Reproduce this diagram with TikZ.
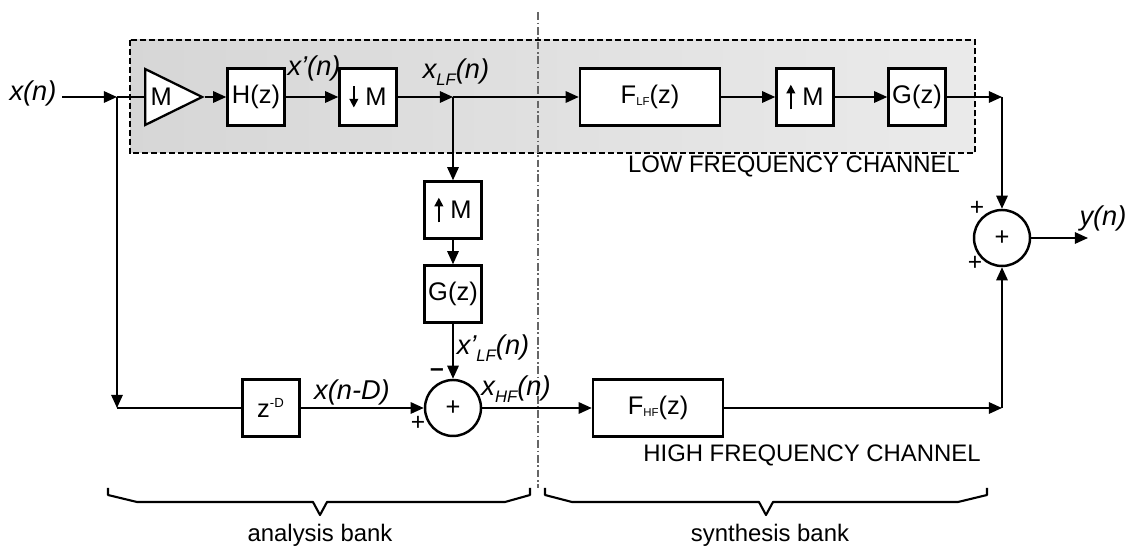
\documentclass[tikz,border=0pt]{standalone}
\usepackage{fontspec}
\setmainfont{Liberation Sans}
\usetikzlibrary{arrows.meta,positioning,shapes.geometric,calc}

\newcommand{\arrdown}{\tikz[baseline=0pt]\draw[line width=1pt,-{Triangle[length=5pt,width=5pt]}] (0pt,11pt) -- (0pt,-1pt);}
\newcommand{\arrup}{\tikz[baseline=0pt]\draw[line width=1pt,-{Triangle[length=5pt,width=5pt]}] (0pt,-2pt) -- (0pt,12pt);}
\newcommand{\lsub}[1]{\raisebox{-0.45ex}{\fontsize{9.5}{9.5}\selectfont #1}}
\newcommand{\bsub}[1]{\raisebox{-0.15ex}{\fontsize{6.5}{6.5}\selectfont #1}}

\tikzset{
  blk/.style={draw, line width=1.4pt, fill=white, minimum width=1.14cm, minimum height=1.14cm, inner sep=0pt, font=\fontsize{14.5}{16}\selectfont},
  sumnode/.style={circle, draw, line width=1.4pt, fill=white, minimum size=1.12cm, inner sep=0pt, font=\fontsize{14.5}{16}\selectfont},
  ampnode/.style={isosceles triangle, isosceles triangle apex angle=54, isosceles triangle stretches, draw, line width=1.3pt, fill=white, minimum width=1.12cm, minimum height=1.14cm, inner sep=0pt, font=\fontsize{14.5}{16}\selectfont},
  sig/.style={font=\fontsize{15.5}{18}\selectfont\itshape, inner sep=0pt},
  chan/.style={font=\fontsize{13.6}{15}\selectfont, inner sep=0pt},
  sgn/.style={font=\fontsize{14}{15}\selectfont, inner sep=0pt},
  wire/.style={line width=1.1pt, -{Triangle[length=7.5pt,width=6.5pt]}},
  plain/.style={line width=1.1pt},
  brace/.style={line width=1.2pt, line join=round},
  divider/.style={line width=0.8pt, black!60, dash pattern=on 4.5pt off 1.5pt on 0.9pt off 1.5pt},
}

\begin{document}
\begin{tikzpicture}[x=0.02cm, y=-0.02cm]
    \useasboundingbox (0,0) rectangle (1134,547);

    % low frequency channel area
    \draw[line width=1.4pt, dash pattern=on 3.4pt off 1.7pt, left color=black!16, right color=black!8] (130,40) rectangle (975,153);
    \draw[divider] (538,12) -- (538,488);

    % blocks
    \node[ampnode, anchor=lower side] (amp) at (144,97) {M};
    \node[blk] (hz) at (256,97) {H(z)};
    \node[blk] (down) at (368,97) {\arrdown\ M};
    \node[blk, minimum width=2.8cm] (flf) at (650,97) {F\bsub{LF}(z)};
    \node[blk] (upm) at (805,97) {\arrup\ M};
    \node[blk] (gz) at (917,97) {G(z)};
    \node[blk] (upv) at (453,210) {\arrup\ M};
    \node[blk] (gv) at (453,294) {G(z)};
    \node[blk] (zd) at (271,408) {z\textsuperscript{\fontsize{7.5}{7.5}\selectfont -D}};
    \node[sumnode] (sumi) at (453,408) {+};
    \node[blk, minimum width=2.6cm] (fhf) at (658,408) {F\bsub{HF}(z)};
    \node[sumnode] (sumo) at (1002,238) {+};

    % junctions
    \coordinate (jin) at (117,97);
    \coordinate (jd) at (117,408);
    \coordinate (jlf) at (453,97);
    \coordinate (jout) at (1002,97);
    \coordinate (jhf) at (1002,408);
    \coordinate (yend) at (1088,238);

    % signal labels
    \node[sig] (xin) at (33,93) {x(n)};
    \node[sig] (xp) at (314,68) {x'(n)};
    \node[sig] (xlf) at (456,72) {x\lsub{LF}(n)};
    \node[sig] (xplf) at (493,348) {x'\lsub{LF}(n)};
    \node[sig] (xd) at (352,392) {x(n-D)};
    \node[sig] (xhf) at (516,389) {x\lsub{HF}(n)};
    \node[sig] (yn) at (1103,218) {y(n)};

    % connectors
    \draw[wire] ([xshift=3pt]xin.east |- jin) -- (jin);
    \draw[plain] (jin) -- (amp.lower side);
    \draw[wire] (amp.apex) -- (hz);
    \draw[wire] (hz) -- (down);
    \draw[wire] (down) -- (jlf);
    \draw[wire] (jlf) -- (flf);
    \draw[wire] (flf) -- (upm);
    \draw[wire] (upm) -- (gz);
    \draw[wire] (gz) -- (jout);
    \draw[wire] (jout) -- (sumo);
    \draw[wire] (sumo) -- (yend);
    \draw[wire] (jlf) -- (upv);
    \draw[wire] (upv) -- (gv);
    \draw[wire] (gv) -- (sumi);
    \draw[wire] (jin) -- (jd);
    \draw[plain] (jd) -- (zd);
    \draw[wire] (zd) -- (sumi);
    \draw[wire] (sumi) -- (fhf);
    \draw[wire] (fhf) -- (jhf);
    \draw[wire] (jhf) -- (sumo);

    % signs at the adders
    \node[sgn] (so1) at (977,208) {+};
    \node[sgn] (so2) at (975,263) {+};
    \node[sgn] (si1) at (437,373) {\bfseries –};
    \node[sgn] (si2) at (418,423) {+};

    % channel names
    \node[chan] (lfc) at (794,166) {LOW FREQUENCY CHANNEL};
    \node[chan] (hfc) at (812,455) {HIGH FREQUENCY CHANNEL};

    % banks
    \draw[brace] (108,488) -- (108,495) -- (137,502) -- (313,502) -- (320,515) -- (327,502) -- (505,502) -- (530,495) -- (530,488);
    \draw[brace] (545,488) -- (545,495) -- (572,502) -- (759,502) -- (766,515) -- (773,502) -- (958,502) -- (987,495) -- (987,488);
    \node[chan] (ab) at (320,535) {analysis bank};
    \node[chan] (sb) at (770,535) {synthesis bank};
\end{tikzpicture}
\end{document}
